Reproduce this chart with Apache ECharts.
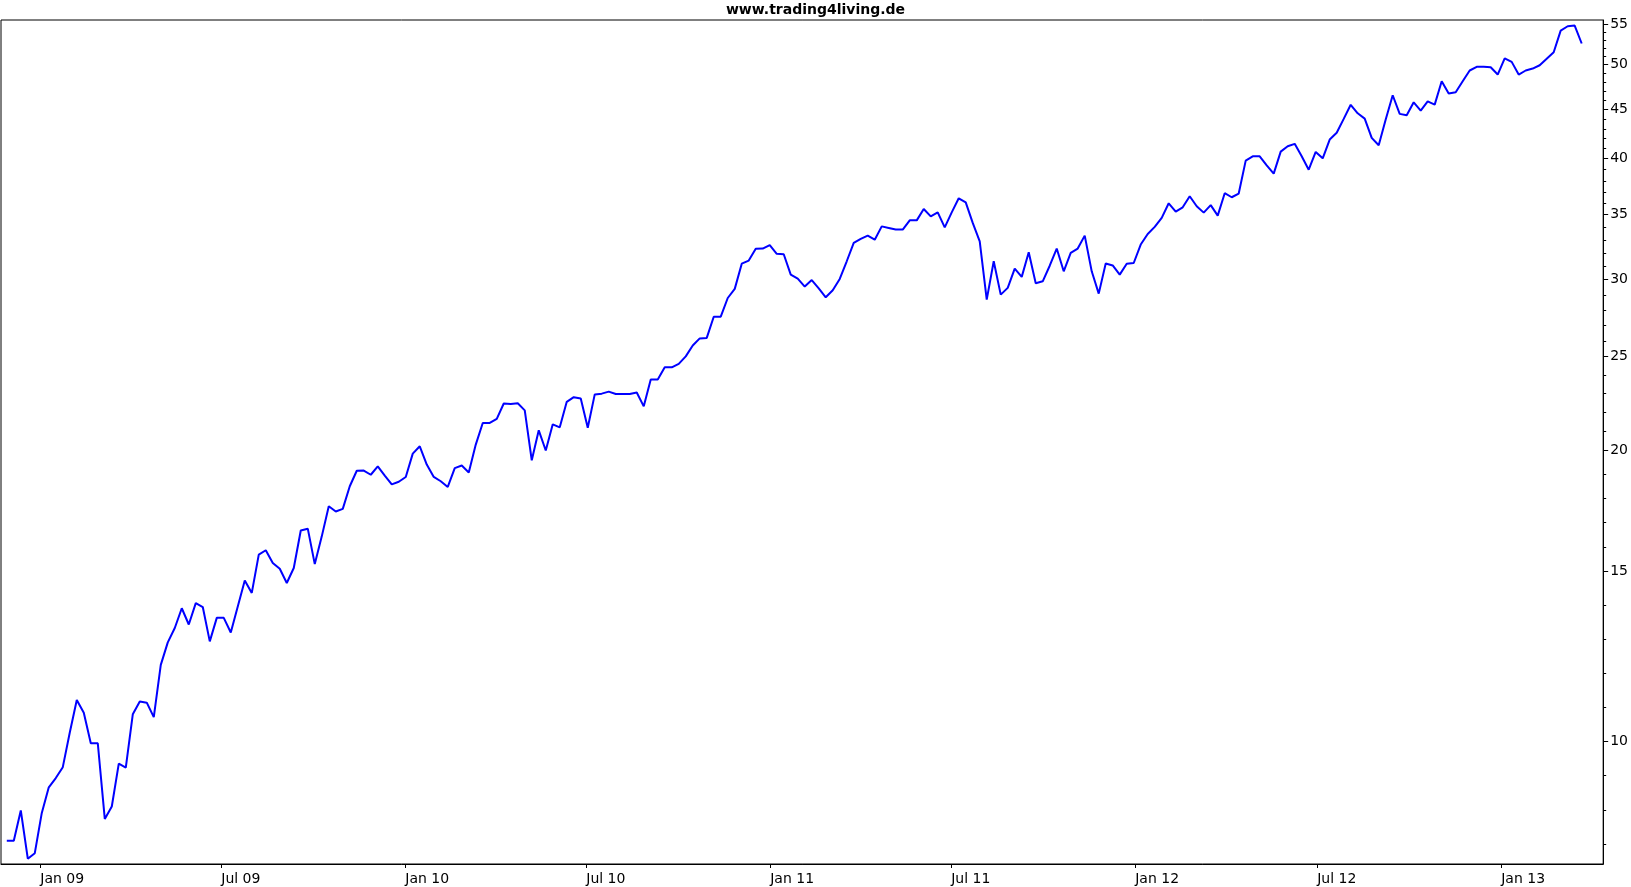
<!DOCTYPE html>
<html>
<head>
<meta charset="utf-8">
<script src="https://cdn.jsdelivr.net/npm/echarts@6/dist/echarts.min.js"></script>
<style>
html,body{margin:0;padding:0;background:#fff;}
#chart{width:1631px;height:887px;}
</style>
</head>
<body>
<div id="chart"></div>
<script>
// Weekly closes (Fridays), first value on 2008-11-28
const firstWeek = '2008-11-28';
const close2008 = [7.90, 7.90, 8.49, 7.57, 7.67];
const close2009 = [8.44, 8.97, 9.17, 9.41, 10.22, 11.04, 10.71, 9.96, 9.96, 8.32, 8.57, 9.49, 9.40, 10.67, 11.00, 10.97, 10.60, 12.00, 12.66, 13.10, 13.73, 13.21, 13.90, 13.77, 12.69, 13.42, 13.42, 12.96, 13.79, 14.67, 14.24, 15.60, 15.76, 15.29, 15.08, 14.58, 15.11, 16.52, 16.59, 15.25, 16.29, 17.50, 17.28, 17.39, 18.35, 19.04, 19.05, 18.86, 19.24, 18.82, 18.43, 18.55];
const close2010 = [18.76, 19.83, 20.18, 19.32, 18.76, 18.57, 18.32, 19.16, 19.28, 18.96, 20.26, 21.33, 21.33, 21.54, 22.34, 22.32, 22.35, 21.98, 19.52, 20.96, 19.98, 21.26, 21.11, 22.43, 22.68, 22.61, 21.09, 22.83, 22.87, 22.98, 22.85, 22.85, 22.85, 22.93, 22.19, 23.65, 23.65, 24.35, 24.35, 24.55, 24.99, 25.64, 26.08, 26.11, 27.46, 27.46, 28.71, 29.34, 31.15, 31.38, 32.27, 32.29, 32.55];
const close2011 = [31.89, 31.86, 30.35, 30.06, 29.50, 29.96, 29.37, 28.76, 29.24, 30.04, 31.33, 32.73, 33.04, 33.30, 32.98, 34.04, 33.91, 33.78, 33.78, 34.53, 34.53, 35.48, 34.86, 35.19, 33.96, 35.19, 36.39, 36.04, 34.32, 32.85, 28.60, 31.33, 28.94, 29.41, 30.78, 30.19, 32.01, 29.73, 29.87, 31.00, 32.29, 30.59, 31.96, 32.29, 33.30, 30.59, 29.01, 31.17, 31.02, 30.35, 31.15, 31.20];
const close2012 = [32.60, 33.43, 34.00, 34.73, 35.96, 35.25, 35.62, 36.57, 35.71, 35.17, 35.80, 34.92, 36.83, 36.48, 36.80, 39.80, 40.21, 40.21, 39.36, 38.59, 40.66, 41.18, 41.42, 40.21, 38.95, 40.63, 40.02, 41.84, 42.52, 43.95, 45.45, 44.54, 43.98, 42.01, 41.28, 43.88, 46.49, 44.48, 44.33, 45.72, 44.83, 45.83, 45.47, 48.07, 46.68, 46.82, 48.07, 49.31, 49.74, 49.74, 49.69, 48.84];
const close2013 = [50.76, 50.33, 48.84, 49.31, 49.54, 49.93, 50.70, 51.49, 54.22, 54.78, 54.87, 52.58];

const yTickLabels = [10, 15, 20, 25, 30, 35, 40, 45, 50, 55];
const xTickDates = ['2009-01-01', '2009-07-01', '2010-01-01', '2010-07-01', '2011-01-01', '2011-07-01', '2012-01-01', '2012-07-01', '2013-01-01'];
const monthNames = ['Jan','Feb','Mar','Apr','May','Jun','Jul','Aug','Sep','Oct','Nov','Dec'];
const titleText = 'www.trading4living.de';

function toTime(s, hour) {
  const q = s.split('-').map(Number);
  return new Date(q[0], q[1] - 1, q[2], hour || 0).getTime();
}

// build series data
const closes = [].concat(close2008, close2009, close2010, close2011, close2012, close2013);
const p = firstWeek.split('-').map(Number);
const seriesData = closes.map((v, i) => {
  const d = new Date(p[0], p[1] - 1, p[2] + 7 * i, 12);
  return [d.getTime(), v];
});
const xTickTimes = xTickDates.map(s => toTime(s));

// minor ticks: 4 evenly spaced (on the log scale) between labelled ticks, 3 below the first
const allTicks = [];
const r0 = Math.pow(yTickLabels[1] / yTickLabels[0], 1 / 5);
for (let k = 3; k >= 1; k--) allTicks.push(+(yTickLabels[0] / Math.pow(r0, k)).toFixed(4));
for (let j = 0; j < yTickLabels.length; j++) {
  const a = yTickLabels[j];
  allTicks.push(a);
  if (j === yTickLabels.length - 1) break;
  const b = yTickLabels[j + 1];
  const r = Math.pow(b / a, 1 / 5);
  for (let k = 1; k <= 4; k++) allTicks.push(+(a * Math.pow(r, k)).toFixed(4));
}

const yMin = 7.475, yMax = 55.6;
const font = 'DejaVu Sans';

const chart = echarts.init(document.getElementById('chart'), null, {renderer: 'canvas'});
chart.setOption({
  animation: false,
  backgroundColor: '#fff',
  title: {
    text: titleText,
    left: 'center',
    top: 3,
    padding: 0,
    textStyle: {fontFamily: font, fontSize: 14, fontWeight: 'bold', color: '#000'}
  },
  grid: {
    left: 1, top: 20, right: 27, bottom: 23,
    show: true, borderColor: '#000', borderWidth: 1, backgroundColor: 'transparent',
    containLabel: false
  },
  xAxis: {
    type: 'value',
    min: new Date(2008, 10, 22, 17).getTime(),
    max: new Date(2013, 3, 13).getTime(),
    axisLine: {show: true, onZero: false, lineStyle: {color: '#000', width: 1}},
    axisTick: {show: true, length: 4, inside: false, lineStyle: {color: '#000'}, customValues: xTickTimes},
    axisLabel: {
      show: true, customValues: xTickTimes, align: 'left', margin: 8,
      fontFamily: font, fontSize: 14, color: '#000',
      formatter: function (v) {
        const d = new Date(v);
        return monthNames[d.getMonth()] + ' ' + String(d.getFullYear() % 100).padStart(2, '0');
      }
    },
    splitLine: {show: false}
  },
  yAxis: [{
    type: 'log',
    position: 'right',
    offset: 0,
    min: yMin, max: yMax,
    axisLine: {show: true, onZero: false, lineStyle: {color: '#000'}},
    axisTick: {show: true, length: 3, inside: false, lineStyle: {color: '#000', width: 1}, customValues: allTicks},
    axisLabel: {show: true, customValues: yTickLabels, margin: 7, fontFamily: font, fontSize: 14, color: '#000',
      formatter: function (v) { return String(Math.round(v)); }},
    splitLine: {show: false}
  }, {
    type: 'log',
    position: 'right',
    offset: 0,
    min: yMin, max: yMax,
    axisLine: {show: false, onZero: false},
    axisTick: {show: true, length: 5, inside: false, lineStyle: {color: '#000'}, customValues: yTickLabels},
    axisLabel: {show: false},
    splitLine: {show: false}
  }],
  series: [{
    type: 'line',
    data: seriesData,
    yAxisIndex: 0,
    showSymbol: false,
    symbol: 'none',
    lineStyle: {color: '#0000ff', width: 2},
    itemStyle: {color: '#0000ff'}
  }]
});
</script>
</body>
</html>
